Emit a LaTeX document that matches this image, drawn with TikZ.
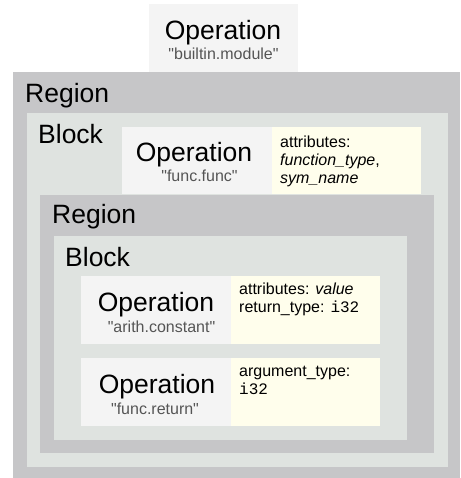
\documentclass[tikz,border=0pt]{standalone}
\usepackage{fontspec}
\setmainfont{Liberation Sans}[Ligatures=TeXOff]
\setmonofont{Liberation Mono}
\definecolor{regiongray}{RGB}{198,198,200}
\definecolor{blockgray}{RGB}{223,227,224}
\definecolor{opgray}{RGB}{244,244,244}
\definecolor{attryellow}{RGB}{255,254,236}
\definecolor{subgray}{RGB}{85,85,85}
\begin{document}
\begin{tikzpicture}[x=1pt,y=-1pt,
  box/.style={draw=none, inner sep=0pt, outer sep=0pt, anchor=north west},
  big/.style={font=\fontsize{26.5}{30}\selectfont, inner sep=0pt, anchor=base},
  lbl/.style={font=\fontsize{26.5}{30}\selectfont, inner sep=0pt, anchor=base west},
  sub/.style={font=\fontsize{16}{18}\selectfont, text=subgray, inner sep=0pt, anchor=base},
  attr/.style={font=\fontsize{16}{18}\selectfont, inner sep=0pt, anchor=base west}]
\useasboundingbox (0,0) rectangle (460,478);
% boxes
\node[box, fill=opgray, minimum width=149pt, minimum height=68pt] (topop) at (149,4) {};
\node[box, fill=regiongray, minimum width=447pt, minimum height=406pt] (region1) at (13,72) {};
\node[box, fill=blockgray, minimum width=421pt, minimum height=354pt] (block1) at (27,113) {};
\node[box, fill=opgray, minimum width=150pt, minimum height=67pt] (funcop) at (122,127) {};
\node[box, fill=attryellow, minimum width=149pt, minimum height=67pt] (funcattr) at (272,127) {};
\node[box, fill=regiongray, minimum width=394pt, minimum height=258pt] (region2) at (40,195) {};
\node[box, fill=blockgray, minimum width=353pt, minimum height=204pt] (block2) at (54,236) {};
\node[box, fill=opgray, minimum width=150pt, minimum height=68pt] (constop) at (81,276) {};
\node[box, fill=attryellow, minimum width=149pt, minimum height=68pt] (constattr) at (231,276) {};
\node[box, fill=opgray, minimum width=150pt, minimum height=68pt] (retop) at (81,358) {};
\node[box, fill=attryellow, minimum width=149pt, minimum height=68pt] (retattr) at (231,358) {};
% texts
\node[big] (t1) at (223,40) {Operation};
\node[sub] (s1) at (223.5,60) {"builtin.module"};
\node[lbl] (r1) at (25,103) {Region};
\node[lbl] (b1) at (38,144) {Block};
\node[big] (t2) at (194,162) {Operation};
\node[sub] (s2) at (199.5,182) {"func.func"};
\node[attr] (a21) at (280,147.5) {attributes:};
\node[attr] (a22) at (280,165.5) {\textit{function\_type},};
\node[attr] (a23) at (280,183.5) {\textit{sym\_name}};
\node[lbl] (r2) at (52,223) {Region};
\node[lbl] (b2) at (65,266) {Block};
\node[big] (t3) at (156,311.5) {Operation};
\node[sub] (s3) at (161.5,332) {"arith.constant"};
\node[attr] (a31) at (239,294.5) {attributes: \textit{value}};
\node[attr] (a32) at (239,312.5) {return\_type: \texttt{i32}};
\node[big] (t4) at (157,393.3) {Operation};
\node[sub] (s4) at (155,414) {"func.return"};
\node[attr] (a41) at (239,376.7) {argument\_type:};
\node[attr] (a42) at (239,394.5) {\texttt{i32}};
\end{tikzpicture}
\end{document}
